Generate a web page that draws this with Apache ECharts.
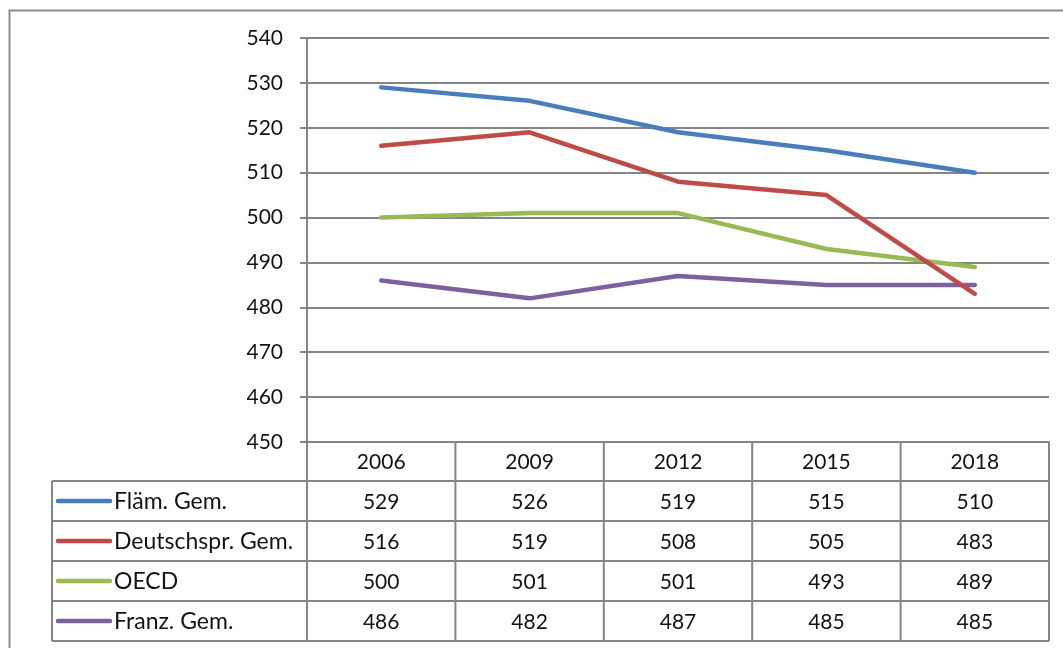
<!DOCTYPE html>
<html>
<head>
<meta charset="utf-8">
<script src="https://cdn.jsdelivr.net/npm/echarts/dist/echarts.min.js"></script>
<style>
  html, body { margin: 0; padding: 0; background: #fff; }
  #c { width: 1063px; height: 648px; }
</style>
</head>
<body>
<div id="c"></div>
<script>
// PISA scores by community, 2006–2018
const years = ['2006', '2009', '2012', '2015', '2018'];
const seriesNames = ['Fläm. Gem.', 'Deutschspr. Gem.', 'OECD', 'Franz. Gem.'];
const flaemGem = [529, 526, 519, 515, 510];
const deutschsprGem = [516, 519, 508, 505, 483];
const oecd = [500, 501, 501, 493, 489];
const franzGem = [486, 482, 487, 485, 485];
const yMin = 450, yMax = 540, yStep = 10;

const seriesValues = [flaemGem, deutschsprGem, oecd, franzGem];
const colors = ['#4a7ebb', '#be4b48', '#98b954', '#7d60a0'];

const FONT = 'Lato, "Liberation Sans", sans-serif';
const TEXT = '#141414';
const GRID = '#858585';

// plot area and data-table geometry
const plotLeft = 307, plotRight = 1049, plotTop = 38, plotBottom = 442;
const tableLeft = 52;
const rowEdges = [442, 481, 521, 561, 601, 641];

const chart = echarts.init(document.getElementById('c'), null, { renderer: 'canvas' });

chart.setOption({
  animation: false,
  backgroundColor: '#fff',
  grid: { left: plotLeft, right: 1063 - plotRight, top: plotTop, bottom: 648 - plotBottom, containLabel: false },
  xAxis: {
    type: 'category',
    data: years,
    boundaryGap: true,
    axisLine: { show: true, lineStyle: { color: GRID, width: 2 } },
    axisTick: { show: false },
    axisLabel: { show: false },
    splitLine: { show: false }
  },
  yAxis: {
    type: 'value',
    min: yMin, max: yMax, interval: yStep,
    axisLine: { show: true, lineStyle: { color: GRID, width: 2 } },
    axisTick: { show: true, length: 7, lineStyle: { color: GRID, width: 2 } },
    axisLabel: { margin: 24, fontSize: 21, fontFamily: FONT, color: TEXT },
    splitLine: { show: true, lineStyle: { color: GRID, width: 2 } }
  },
  series: seriesNames.map((name, i) => ({
    name: name,
    type: 'line',
    data: seriesValues[i],
    symbol: 'none',
    lineStyle: { color: colors[i], width: 4.5, cap: 'round', join: 'round' },
    itemStyle: { color: colors[i] },
    z: 10 - i
  }))
});

// data table below the plot, aligned to the category axis
const centers = years.map((y, i) => chart.convertToPixel({ xAxisIndex: 0 }, i));
const colEdges = [plotLeft];
for (let i = 0; i < centers.length - 1; i++) colEdges.push((centers[i] + centers[i + 1]) / 2);
colEdges.push(plotRight);

const lineStyle = { stroke: GRID, lineWidth: 2 };
const els = [];

// outer chart frame
els.push({ type: 'rect', shape: { x: 9.5, y: 10.5, width: 1100, height: 700 },
  style: { fill: 'none', stroke: '#8e8e8e', lineWidth: 2 }, z: 1 });

// horizontal rules
for (let r = 1; r < rowEdges.length; r++) {
  els.push({ type: 'line', shape: { x1: tableLeft, y1: rowEdges[r], x2: plotRight, y2: rowEdges[r] }, style: lineStyle });
}
// vertical rules
els.push({ type: 'line', shape: { x1: tableLeft, y1: rowEdges[1], x2: tableLeft, y2: rowEdges[rowEdges.length - 1] }, style: lineStyle });
colEdges.forEach(x => {
  els.push({ type: 'line', shape: { x1: x, y1: rowEdges[0], x2: x, y2: rowEdges[rowEdges.length - 1] }, style: lineStyle });
});

// header row: years
years.forEach((y, i) => {
  els.push({ type: 'text', x: centers[i], y: (rowEdges[0] + rowEdges[1]) / 2 + 1,
    style: { text: y, fill: TEXT, font: '21px ' + FONT, align: 'center', verticalAlign: 'middle' } });
});

// series rows: legend key, name, values
seriesNames.forEach((name, s) => {
  const cy = (rowEdges[s + 1] + rowEdges[s + 2]) / 2;
  els.push({ type: 'line', shape: { x1: 58, y1: cy, x2: 110, y2: cy },
    style: { stroke: colors[s], lineWidth: 4.5, lineCap: 'round' } });
  els.push({ type: 'text', x: 114, y: cy + 1,
    style: { text: name, fill: TEXT, font: '23px ' + FONT, align: 'left', verticalAlign: 'middle' } });
  seriesValues[s].forEach((v, i) => {
    els.push({ type: 'text', x: centers[i], y: cy + 1,
      style: { text: String(v), fill: TEXT, font: '21px ' + FONT, align: 'center', verticalAlign: 'middle' } });
  });
});

chart.setOption({ graphic: { elements: els } });
</script>
</body>
</html>
